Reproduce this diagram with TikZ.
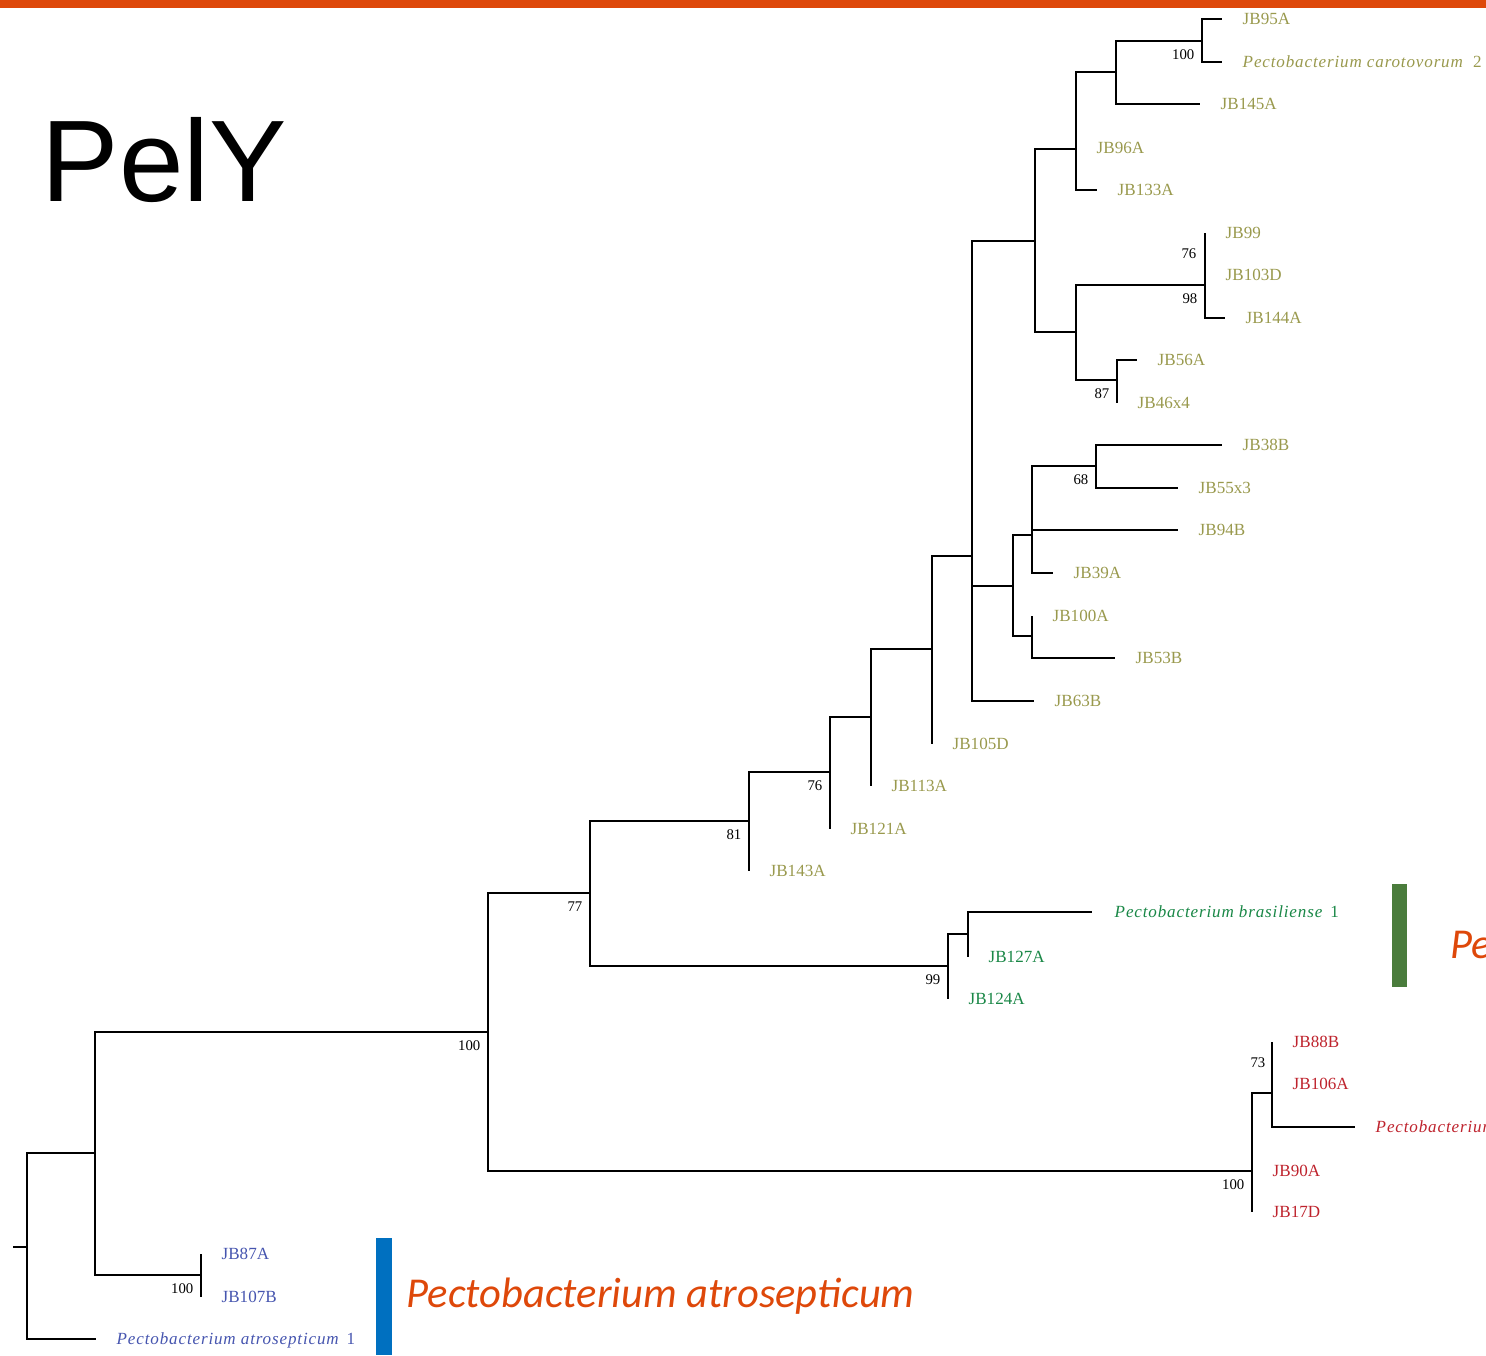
\documentclass[tikz,border=0pt]{standalone}
\usepackage{fontspec}
\setmainfont{Liberation Serif}
\newfontfamily\titlefont{Liberation Sans}
\newfontfamily\cladefont{Carlito}
\usetikzlibrary{positioning}

\definecolor{peloran}{RGB}{222,72,10}
\definecolor{caroleaf}{RGB}{153,153,77}
\definecolor{brasleaf}{RGB}{25,135,70}
\definecolor{redleaf}{RGB}{190,35,45}
\definecolor{atroleaf}{RGB}{70,85,175}
\definecolor{atrobar}{RGB}{0,112,192}
\definecolor{brasbar}{RGB}{74,124,60}

\tikzset{
  branch/.style={line width=0.6pt},
  elbow/.style={to path={|- (\tikztotarget)}},
  leaf/.style={inner sep=0pt, text height=3.3pt, text depth=0pt, font=\fontsize{4.85}{5}\selectfont},
  sp/.style={leaf, font=\fontsize{4.85}{5}\selectfont\itshape\addfontfeature{LetterSpace=5}},
  boot/.style={inner sep=0pt, font=\fontsize{4.2}{5}\selectfont},
  clade/.style={anchor=base west, inner sep=0pt, text=peloran, font=\cladefont\itshape\fontsize{12.1}{14}\selectfont},
}

\begin{document}
\begin{tikzpicture}[x=0.01cm, y=-0.01cm]
\useasboundingbox (0,0) rectangle (1486,1355);
\clip (0,0) rectangle (1486,1355);

% banner and title
\fill[peloran] (0,0) rectangle (1486,8);
\node[anchor=base west, inner sep=0pt, font=\titlefont\fontsize{33}{36}\selectfont] (title) at (41,202) {PelY};

% inner nodes
\coordinate (r0) at (13,1247);
\coordinate (r) at (27,1247);
\coordinate (n95) at (95,1153);
\coordinate (n201) at (201,1275);
\coordinate (n488) at (488,1032);
\coordinate (n590) at (590,893);
\coordinate (n749) at (749,821);
\coordinate (n830) at (830,772);
\coordinate (n871) at (871,717);
\coordinate (n932) at (932,649);
\coordinate (n972) at (972,556);
\coordinate (n1035) at (1035,241);
\coordinate (n1076a) at (1076,149);
\coordinate (n1116) at (1116,72);
\coordinate (n1202) at (1202,41);
\coordinate (n1076b) at (1076,332);
\coordinate (n1205) at (1205,285);
\coordinate (n1205b) at (1205,254);
\coordinate (n1117) at (1117,380);
\coordinate (n1013) at (1013,586);
\coordinate (n1032) at (1032,535);
\coordinate (n1096) at (1096,466);
\coordinate (n1032b) at (1032,636);
\coordinate (n948) at (948,966);
\coordinate (n968) at (968,934);
\coordinate (n1252) at (1252,1171);
\coordinate (n1272) at (1272,1093);
\coordinate (n1272b) at (1272,1063);

% leaf tips
\coordinate (JB95A) at (1222,19);
\coordinate (PC2) at (1222,62);
\coordinate (JB145A) at (1200,104);
\coordinate (JB96A) at (1076,148);
\coordinate (JB133A) at (1097,190);
\coordinate (JB99) at (1205,233);
\coordinate (JB103D) at (1205,275);
\coordinate (JB144A) at (1225,318);
\coordinate (JB56A) at (1137,360);
\coordinate (JB46x4) at (1117,403);
\coordinate (JB38B) at (1222,445);
\coordinate (JB55x3) at (1178,488);
\coordinate (JB94B) at (1178,530);
\coordinate (JB39A) at (1053,573);
\coordinate (JB100A) at (1032,616);
\coordinate (JB53B) at (1115,658);
\coordinate (JB63B) at (1034,701);
\coordinate (JB105D) at (932,744);
\coordinate (JB113A) at (871,786);
\coordinate (JB121A) at (830,829);
\coordinate (JB143A) at (749,871);
\coordinate (PB1) at (1092,912);
\coordinate (JB127A) at (968,957);
\coordinate (JB124A) at (948,999);
\coordinate (JB88B) at (1272,1042);
\coordinate (JB106A) at (1272,1084);
\coordinate (PR) at (1355,1127);
\coordinate (JB90A) at (1252,1171);
\coordinate (JB17D) at (1252,1212);
\coordinate (JB87A) at (201,1254);
\coordinate (JB107B) at (201,1297);
\coordinate (PA1) at (96,1339);

% branches
\draw[branch] (r0) -- (r)
  (r) edge[elbow] (n95) edge[elbow] (PA1)
  (n95) edge[elbow] (n488) edge[elbow] (n201)
  (n201) edge[elbow] (JB87A) edge[elbow] (JB107B)
  (n488) edge[elbow] (n590) edge[elbow] (n1252)
  (n1252) edge[elbow] (n1272) edge[elbow] (JB90A) edge[elbow] (JB17D)
  (n1272) edge[elbow] (n1272b) edge[elbow] (PR)
  (n1272b) edge[elbow] (JB88B) edge[elbow] (JB106A)
  (n590) edge[elbow] (n749) edge[elbow] (n948)
  (n948) edge[elbow] (n968) edge[elbow] (JB124A)
  (n968) edge[elbow] (PB1) edge[elbow] (JB127A)
  (n749) edge[elbow] (n830) edge[elbow] (JB143A)
  (n830) edge[elbow] (n871) edge[elbow] (JB121A)
  (n871) edge[elbow] (n932) edge[elbow] (JB113A)
  (n932) edge[elbow] (n972) edge[elbow] (JB105D)
  (n972) edge[elbow] (n1035) edge[elbow] (n1013) edge[elbow] (JB63B)
  (n1035) edge[elbow] (n1076a) edge[elbow] (n1076b)
  (n1076a) edge[elbow] (n1116) edge[elbow] (JB96A) edge[elbow] (JB133A)
  (n1116) edge[elbow] (n1202) edge[elbow] (JB145A)
  (n1202) edge[elbow] (JB95A) edge[elbow] (PC2)
  (n1076b) edge[elbow] (n1205) edge[elbow] (n1117)
  (n1205) edge[elbow] (n1205b) edge[elbow] (JB144A)
  (n1205b) edge[elbow] (JB99) edge[elbow] (JB103D)
  (n1117) edge[elbow] (JB56A) edge[elbow] (JB46x4)
  (n1013) edge[elbow] (n1032) edge[elbow] (n1032b)
  (n1032) edge[elbow] (n1096) edge[elbow] (JB94B) edge[elbow] (JB39A)
  (n1096) edge[elbow] (JB38B) edge[elbow] (JB55x3)
  (n1032b) edge[elbow] (JB100A) edge[elbow] (JB53B);

% bootstrap values
\node[boot, below left=0.8mm and 0.7mm of n1202] (b1202) {100};
\node[boot, left=0.8mm of n1205b] (b1205b) {76};
\node[boot, below left=0.8mm and 0.7mm of n1205] (b1205) {98};
\node[boot, below left=0.8mm and 0.7mm of n1117] (b1117) {87};
\node[boot, below left=0.8mm and 0.7mm of n1096] (b1096) {68};
\node[boot, below left=0.8mm and 0.7mm of n830] (b830) {76};
\node[boot, below left=0.8mm and 0.7mm of n749] (b749) {81};
\node[boot, below left=0.8mm and 0.7mm of n590] (b590) {77};
\node[boot, below left=0.8mm and 0.7mm of n948] (b948) {99};
\node[boot, below left=0.8mm and 0.7mm of n488] (b488) {100};
\node[boot, left=0.6mm of n1272b] (b1272b) {73};
\node[boot, below left=0.8mm and 0.7mm of n1252] (b1252) {100};
\node[boot, below left=0.8mm and 0.7mm of n201] (b201) {100};

% leaf labels
\foreach \t in {JB95A,JB145A,JB96A,JB133A,JB99,JB103D,JB144A,JB56A,JB46x4,JB38B,JB55x3,JB94B,JB39A,JB100A,JB53B,JB63B,JB105D,JB113A,JB121A,JB143A}
  \node[leaf, text=caroleaf, right=2mm of \t] (l\t) {\t};
\node[sp, text=caroleaf, right=2mm of PC2] (lPC2) {Pectobacterium carotovorum\ \ \upshape 2};
\node[sp, text=brasleaf, right=2.2mm of PB1] (lPB1) {Pectobacterium brasiliense\ \,\upshape 1};
\foreach \t in {JB127A,JB124A}
  \node[leaf, text=brasleaf, right=2mm of \t] (l\t) {\t};
\foreach \t in {JB88B,JB106A,JB90A,JB17D}
  \node[leaf, text=redleaf, right=2mm of \t] (l\t) {\t};
\node[sp, text=redleaf, right=2mm of PR] (lPR) {Pectobacterium};
\foreach \t in {JB87A,JB107B}
  \node[leaf, text=atroleaf, right=2mm of \t] (l\t) {\t};
\node[sp, text=atroleaf, right=2mm of PA1] (lPA1) {Pectobacterium atrosepticum\ \,\upshape 1};

% clade bars
\fill[atrobar] (376,1238) rectangle (392,1355);
\fill[brasbar] (1392,884) rectangle (1407,987);
\node[clade] (atro) at (406,1307) {Pectobacterium atrosepticum};
\node[clade] (bras) at (1450,958) {Pectobacterium};
\end{tikzpicture}
\end{document}
